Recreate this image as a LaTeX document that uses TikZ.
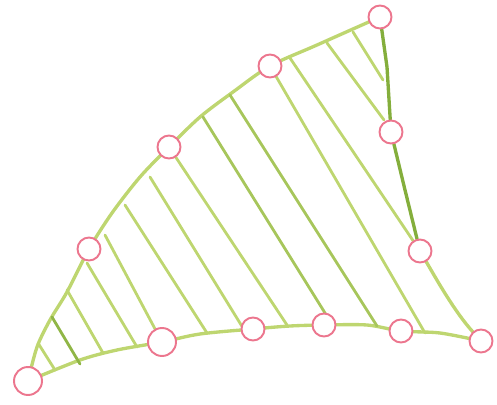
\documentclass[tikz,border=0pt]{standalone}
\usetikzlibrary{backgrounds}

\definecolor{leafgreen}{RGB}{190,214,112}
\definecolor{stemgreen}{RGB}{132,174,60}
\definecolor{rosepink}{RGB}{236,118,142}

\begin{document}
\begin{tikzpicture}[
    x=0.02cm, y=-0.02cm,
    knot/.style={
        circle,
        draw=rosepink,
        fill=white,
        line width=1.1pt,
        minimum size=0.46cm,
        inner sep=0pt
    },
    bigknot/.style={
        knot,
        minimum size=0.56cm
    },
    rim/.style={
        leafgreen,
        line width=1.9pt,
        line cap=round
    },
    spine/.style={
        stemgreen,
        line width=1.9pt,
        line cap=round
    },
    hatch/.style={
        leafgreen,
        line width=1.6pt,
        line cap=round
    }
]
    \useasboundingbox (0,0) rectangle (497,405);

    % -- Knots on the upper edge --
    \node[bigknot] (tip) at (28,381) {};
    \node[knot] (up1) at (89,249) {};
    \node[knot] (up2) at (169,147) {};
    \node[knot] (up3) at (270,66) {};
    \node[knot] (top) at (380,17) {};

    % -- Knots on the right edge --
    \node[knot] (rt1) at (391,132) {};
    \node[knot] (rt2) at (420,251) {};
    \node[knot] (corner) at (481,341) {};

    % -- Knots on the lower edge --
    \node[bigknot] (lo1) at (162,342) {};
    \node[knot] (lo2) at (253,329) {};
    \node[knot] (lo3) at (324,325) {};
    \node[knot] (lo4) at (401,331) {};

    \begin{scope}[on background layer]
        % Outline
        \draw[rim] plot[smooth, tension=0.5] coordinates {(tip.center) (37,347) (50,320) (67,292) (up1.center) (112,213) (140,177) (up2.center) (200,117) (233,92) (up3.center) (317,45) (top.center)};
        \draw[rim] plot[smooth, tension=0.5] coordinates {(tip.center) (80,360) (117,350) (lo1.center) (200,334) (lo2.center) (290,326) (lo3.center) (367,325) (lo4.center) (440,333) (corner.center)};
        \draw[spine] (top) -- (387,67) -- (rt1);
        \draw[spine] (rt1) -- (405,190) -- (rt2);
        \draw[rim] (rt2) .. controls (438,282) and (455,312) .. (corner);

        % Hatching
        \draw[hatch] (38,343) -- (55,370);
        \draw[hatch, stemgreen!80!leafgreen] (52,317) -- (80,364);
        \draw[hatch] (67,290) -- (103,353);
        \draw[hatch] (87,263) -- (137,347);
        \draw[hatch] (105,235) -- (lo1);
        \draw[hatch] (125,205) -- (207,333);
        \draw[hatch] (150,177) -- (243,328);
        \draw[hatch] (up2) -- (287,325);
        \draw[hatch, stemgreen!40!leafgreen] (203,117) -- (330,321);
        \draw[hatch, stemgreen!40!leafgreen] (230,95) -- (377,326);
        \draw[hatch] (up3) -- (425,333);
        \draw[hatch] (290,58) -- (rt2);
        \draw[hatch] (327,43) -- (384,120);
        \draw[hatch] (353,32) -- (383,80);
    \end{scope}

\end{tikzpicture}
\end{document}
